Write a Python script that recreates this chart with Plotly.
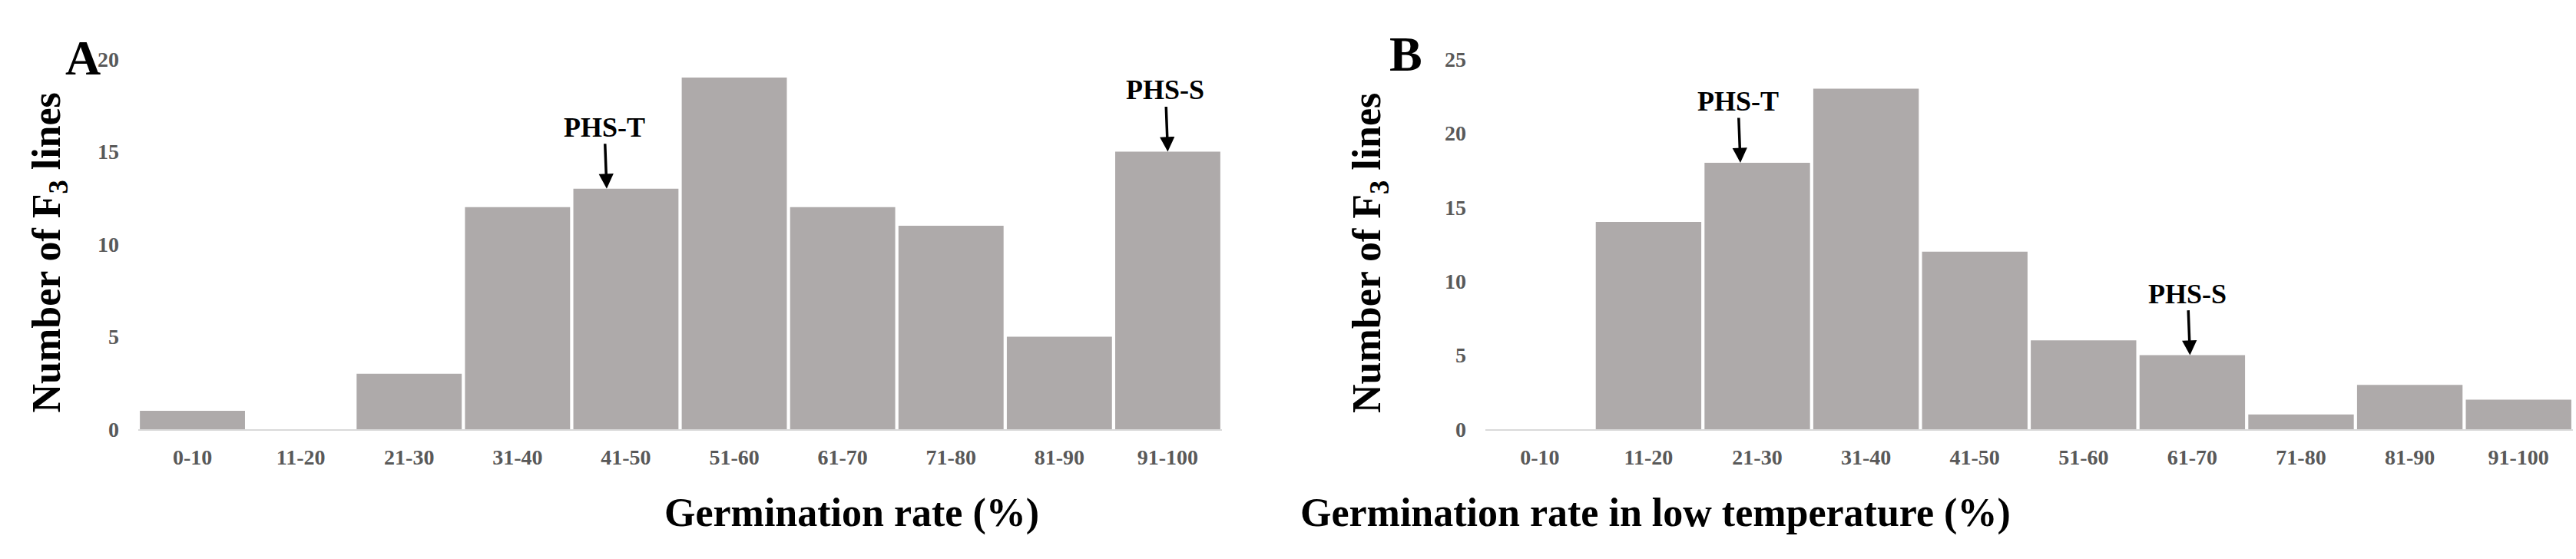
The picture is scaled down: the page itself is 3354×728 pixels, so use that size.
import plotly.graph_objects as go

categories = ["0-10", "11-20", "21-30", "31-40", "41-50", "51-60", "61-70", "71-80", "81-90", "91-100"]
counts_a = [1, 0, 3, 12, 13, 19, 12, 11, 5, 15]
counts_b = [0, 14, 18, 23, 12, 6, 5, 1, 3, 2]
ytick_a = [0, 5, 10, 15, 20]
ytick_b = [0, 5, 10, 15, 20, 25]

bar_color = "#aeaaaa"
tick_color = "#595959"
serif = "Liberation Serif, Times New Roman, serif"
W, H = 3354, 728

fig = go.Figure()
fig.add_trace(go.Bar(x=categories, y=counts_a, marker=dict(color=bar_color, line=dict(width=0)),
                     xaxis="x", yaxis="y", showlegend=False))
fig.add_trace(go.Bar(x=categories, y=counts_b, marker=dict(color=bar_color, line=dict(width=0)),
                     xaxis="x2", yaxis="y2", showlegend=False))

ydom = [(H - 559) / H, (H - 77) / H]
xdom_a = [180 / W, 1591 / W]
xdom_b = [1934 / W, 3350 / W]

xcommon = dict(type="category", showgrid=False, zeroline=False, showline=True,
               linecolor="#d9d9d9", linewidth=2, ticks="", automargin=False,
               tickfont=dict(family=serif, size=28, color=tick_color, weight="bold"),
               ticklabelstandoff=10)
ycommon = dict(showgrid=False, zeroline=False, showline=False, ticks="", automargin=False,
               tickfont=dict(family=serif, size=28, color=tick_color, weight="bold"),
               ticklabelstandoff=24)

fig.update_layout(
    width=W, height=H,
    margin=dict(l=0, r=0, t=0, b=0),
    paper_bgcolor="white", plot_bgcolor="white",
    bargap=0.03,
    xaxis=dict(domain=xdom_a, anchor="y", **xcommon),
    yaxis=dict(domain=ydom, anchor="x", range=[0, 20], tickvals=ytick_a, **ycommon),
    xaxis2=dict(domain=xdom_b, anchor="y2", **xcommon),
    yaxis2=dict(domain=ydom, anchor="x2", range=[0, 25], tickvals=ytick_b, **ycommon),
)

title_font = dict(family=serif, size=52, color="black", weight="bold")
anns = []
# panel letters
anns.append(dict(text="<b>A</b>", x=83 / W, y=1 - 38 / H, xref="paper", yref="paper",
                 showarrow=False, font=dict(family=serif, size=64, color="black")))
anns.append(dict(text="<b>B</b>", x=1830 / W, y=1 - 33 / H, xref="paper", yref="paper",
                 showarrow=False, font=dict(family=serif, size=64, color="black")))
# y titles
for xc, yc in [(30, 329), (1784, 330)]:
    anns.append(dict(text="<b>Number of F<sub>3</sub> lines</b>", x=xc / W, y=1 - yc / H,
                     xref="paper", yref="paper", showarrow=False, textangle=-90,
                     font=title_font))
# x titles
anns.append(dict(text="<b>Germination rate (%)</b>", x=863 / W, y=1 - 699 / H,
                 xref="paper", yref="paper", showarrow=False, font=title_font))
anns.append(dict(text="<b>Germination rate in low temperature (%)</b>", x=2620 / W, y=1 - 699 / H,
                 xref="paper", yref="paper", showarrow=False, font=title_font))

# arrows with labels
marks = [
    ("x", "y", "41-50", counts_a[4], "PHS-T", -25),
    ("x", "y", "91-100", counts_a[9], "PHS-S", 0),
    ("x2", "y2", "21-30", counts_b[2], "PHS-T", -22),
    ("x2", "y2", "61-70", counts_b[6], "PHS-S", -3),
]
for xr, yr, cat, val, label, shift in marks:
    anns.append(dict(text="<b>" + label + "</b>", x=cat, y=val, xref=xr, yref=yr,
                     xshift=shift, showarrow=True, ax=-3, ay=-80, arrowhead=2,
                     arrowsize=1.1, arrowwidth=3.5, arrowcolor="black", standoff=0,
                     font=dict(family=serif, size=36, color="black")))

fig.update_layout(annotations=anns)
fig.write_html("out.html")
